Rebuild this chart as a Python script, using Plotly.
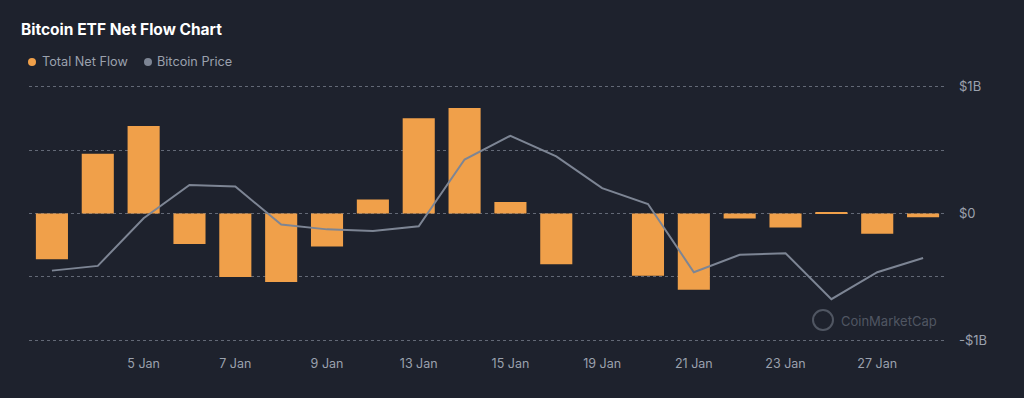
import plotly.graph_objects as go

dates = ["31 Dec", "2 Jan", "5 Jan", "6 Jan", "7 Jan", "8 Jan", "9 Jan", "12 Jan", "13 Jan",
         "14 Jan", "15 Jan", "16 Jan", "19 Jan", "20 Jan", "21 Jan", "22 Jan", "23 Jan",
         "26 Jan", "27 Jan", "28 Jan"]
net_flow_musd = [-360, 470, 690, -240, -500, -540, -260, 110, 750, 830, 90, -400, None,
                 -490, -600, -40, -110, 5, -160, -30]
btc_price = [88400, 88700, 91700, 93800, 93700, 91300, 91000, 90900, 91200, 95400, 96900,
             95600, 93600, 92600, 88300, 89400, 89500, 86600, 88300, 89200]
tick_dates = ["5 Jan", "7 Jan", "9 Jan", "13 Jan", "15 Jan", "19 Jan", "21 Jan", "23 Jan", "27 Jan"]
y_tickvals = [-1e9, -5e8, 0, 5e8, 1e9]
y_ticktext = ["-$1B", "", "$0", "", "$1B"]

BG = "#1e222d"
ORANGE = "#f0a04a"
GREY_LINE = "#7d8594"
TEXT = "#9ba1ad"
FONT = "Inter, Roboto, sans-serif"

flows = [v * 1e6 if v is not None else None for v in net_flow_musd]

L, R, T, B = 29, 78, 84, 55
W, H = 1024, 398
PW, PH = W - L - R, H - T - B

fig = go.Figure()
fig.add_trace(go.Bar(x=dates, y=flows, marker=dict(color=ORANGE, line=dict(width=0)),
                     name="Total Net Flow", showlegend=False))
fig.add_trace(go.Scatter(x=dates, y=btc_price, yaxis="y2", mode="lines",
                         line=dict(color=GREY_LINE, width=2), name="Bitcoin Price",
                         showlegend=False))

fig.update_layout(
    width=W, height=H,
    paper_bgcolor=BG, plot_bgcolor=BG,
    margin=dict(l=L, r=R, t=T, b=B),
    bargap=0.3,
    font=dict(family=FONT, color=TEXT, size=12),
    xaxis=dict(type="category", tickmode="array", tickvals=tick_dates, ticktext=tick_dates,
               showgrid=False, zeroline=False, showline=False, ticks="",
               tickfont=dict(size=12.5, color=TEXT), ticklabelstandoff=11),
    yaxis=dict(side="right", range=[-1.02e9, 1.02e9], tickmode="array", tickvals=y_tickvals,
               ticktext=y_ticktext, showgrid=True, gridcolor="#636976", griddash="dot",
               gridwidth=1, zeroline=False, showline=False, ticks="",
               tickfont=dict(size=13, color=TEXT), ticklabelstandoff=12),
    yaxis2=dict(overlaying="y", range=[83840, 100160], visible=False, showgrid=False),
    showlegend=False,
)

def px_x(px):
    return (px - L) / PW

def px_y(py):
    return (H - B - py) / PH

# Title
fig.add_annotation(text="<b>Bitcoin ETF Net Flow Chart</b>", xref="paper", yref="paper",
                   x=px_x(19), y=px_y(30), xanchor="left", yanchor="middle",
                   showarrow=False, font=dict(family=FONT, size=15.5, color="#ffffff"))

# Legend (custom, circle markers)
fig.add_shape(type="circle", xref="paper", yref="paper",
              x0=px_x(28), x1=px_x(36), y0=px_y(66), y1=px_y(58),
              fillcolor=ORANGE, line=dict(width=0))
fig.add_annotation(text="Total Net Flow", xref="paper", yref="paper", x=px_x(40), y=px_y(62),
                   xanchor="left", yanchor="middle", showarrow=False,
                   font=dict(family=FONT, size=12.7, color=TEXT))
fig.add_shape(type="circle", xref="paper", yref="paper",
              x0=px_x(144), x1=px_x(152), y0=px_y(66), y1=px_y(58),
              fillcolor=GREY_LINE, line=dict(width=0))
fig.add_annotation(text="Bitcoin Price", xref="paper", yref="paper", x=px_x(155), y=px_y(62),
                   xanchor="left", yanchor="middle", showarrow=False,
                   font=dict(family=FONT, size=12.7, color=TEXT))

# Watermark
fig.add_shape(type="circle", xref="paper", yref="paper",
              x0=px_x(813), x1=px_x(833), y0=px_y(330), y1=px_y(310),
              line=dict(color="#505662", width=2))
fig.add_annotation(text="CoinMarketCap", xref="paper", yref="paper", x=px_x(839), y=px_y(321),
                   xanchor="left", yanchor="middle", showarrow=False,
                   font=dict(family=FONT, size=13, color="#505662"))

fig.write_html("out.html", config={"displayModeBar": False},
               post_script="document.body.style.margin='0';document.body.style.background='#1e222d';")
